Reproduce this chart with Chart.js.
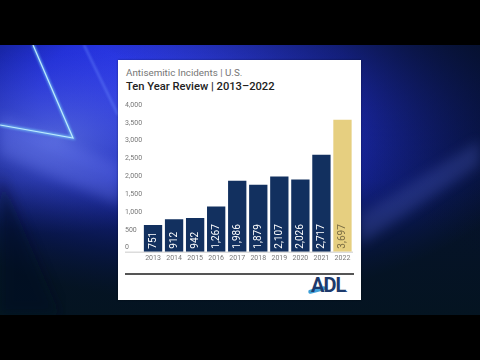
<!DOCTYPE html>
<html><head><meta charset="utf-8">
<script src="https://cdn.jsdelivr.net/npm/chart.js@4/dist/chart.umd.min.js"></script>
<style>
html,body{margin:0;padding:0;background:#000;width:480px;height:360px;overflow:hidden;font-family:Roboto,"Noto Sans",sans-serif;}
#bg{position:absolute;left:0;top:45px;width:480px;height:270px;}
#card{position:absolute;left:118px;top:60px;width:243px;height:240px;background:#fff;box-shadow:0 0 2px rgba(0,0,0,.4);}
#t1{position:absolute;left:8px;top:7px;font-size:9.8px;font-weight:400;color:#767676;white-space:nowrap;}
#t2{position:absolute;left:8px;top:20px;font-size:11.2px;font-weight:500;color:#222;white-space:nowrap;}
#cv{position:absolute;left:0;top:40px;width:243px;height:170px;}
#sep{position:absolute;left:7px;top:213px;width:229px;height:1.5px;background:#555;}
#logo{position:absolute;left:193px;top:213px;font-size:20px;font-weight:700;color:#1d3a6c;letter-spacing:-1px;font-family:Roboto,sans-serif;}
#logo .dot{font-size:8px;letter-spacing:0;}
#swoosh{position:absolute;left:190px;top:228px;width:18px;height:3.5px;background:#3fa0d8;border-radius:2px;transform:rotate(-14deg);}
</style></head>
<body>
<svg id="bg" width="480" height="270" viewBox="0 0 480 270">
<defs>
<radialGradient id="g1" cx="0.42" cy="0.2" r="0.75">
<stop offset="0" stop-color="#3a48ff"/>
<stop offset="0.45" stop-color="#2230d8"/>
<stop offset="0.8" stop-color="#0c1a70"/>
<stop offset="1" stop-color="#061430"/>
</radialGradient>
<linearGradient id="g2" x1="0" y1="0" x2="0" y2="1">
<stop offset="0" stop-color="#000" stop-opacity="0"/>
<stop offset="0.5" stop-color="#04101e" stop-opacity="0.2"/>
<stop offset="1" stop-color="#04141f" stop-opacity="0.9"/>
</linearGradient>
<linearGradient id="g3" x1="1" y1="0" x2="0.6" y2="0.4">
<stop offset="0" stop-color="#06102a" stop-opacity="0.9"/>
<stop offset="1" stop-color="#06102a" stop-opacity="0"/>
</linearGradient>
<radialGradient id="g4" cx="0.12" cy="0.35" r="0.35">
<stop offset="0" stop-color="#6a80ff" stop-opacity="0.8"/>
<stop offset="1" stop-color="#4050ff" stop-opacity="0"/>
</radialGradient>
<filter id="blur"><feGaussianBlur stdDeviation="1.2"/></filter>
<filter id="blur4"><feGaussianBlur stdDeviation="6"/></filter>
</defs>
<rect width="480" height="270" fill="url(#g1)"/>
<rect width="480" height="270" fill="url(#g4)"/>
<rect width="480" height="270" fill="url(#g2)"/>
<rect width="480" height="270" fill="url(#g3)"/>
<polygon points="0,70 120,120 120,160 0,110" fill="#8090ff" opacity="0.25" filter="url(#blur4)"/>
<polygon points="480,95 360,170 360,200 480,120" fill="#5060c0" opacity="0.3" filter="url(#blur4)"/>
<polygon points="0,130 0,270 60,270" fill="#031020" opacity="0.5" filter="url(#blur4)"/>
<polyline points="33,0 73,93 0,80" fill="none" stroke="#7fe0ff" stroke-width="3" opacity="0.6" filter="url(#blur)"/>
<polyline points="33,0 73,93 0,80" fill="none" stroke="#c8f4ff" stroke-width="1.2" opacity="0.9"/>
<line x1="84" y1="0" x2="118" y2="70" stroke="#6a8aff" stroke-width="2" opacity="0.5" filter="url(#blur)"/>
</svg>
<div id="card">
  <div id="t1">Antisemitic Incidents | U.S.</div>
  <div id="t2">Ten Year Review | 2013–2022</div>
  <canvas id="cv" width="243" height="170"></canvas>
  <div id="sep"></div>
  <div id="swoosh"></div>
  <div id="logo">ADL<span class="dot">.</span></div>
</div>
<script>
const years = ["2013","2014","2015","2016","2017","2018","2019","2020","2021","2022"];
const incidents = [751, 912, 942, 1267, 1986, 1879, 2107, 2026, 2717, 3697];
const barColors = ["#12305f","#12305f","#12305f","#12305f","#12305f","#12305f","#12305f","#12305f","#12305f","#e6cf80"];
const labelColors = ["#ffffff","#ffffff","#ffffff","#ffffff","#ffffff","#ffffff","#ffffff","#ffffff","#ffffff","#7a6c42"];
const yTicks = [0, 500, 1000, 1500, 2000, 2500, 3000, 3500, 4000];

const fmt = v => v.toLocaleString('en-US');

const baselinePlugin = {
  id: 'baseline',
  beforeDatasetsDraw(chart) {
    const {ctx, chartArea, scales} = chart;
    const y = scales.y.getPixelForValue(0);
    ctx.save();
    ctx.strokeStyle = '#dcdcdc';
    ctx.lineWidth = 1.5;
    ctx.beginPath();
    ctx.moveTo(7, y + 0.5);
    ctx.lineTo(chartArea.right, y + 0.5);
    ctx.stroke();
    ctx.restore();
  }
};

const barLabelPlugin = {
  id: 'barLabels',
  afterDatasetsDraw(chart) {
    const {ctx, scales} = chart;
    const meta = chart.getDatasetMeta(0);
    const y0 = scales.y.getPixelForValue(0);
    ctx.save();
    ctx.font = '400 10px Roboto';
    ctx.textAlign = 'left';
    ctx.textBaseline = 'middle';
    meta.data.forEach((bar, i) => {
      ctx.save();
      ctx.translate(bar.x, y0 - 3);
      ctx.rotate(-Math.PI / 2);
      ctx.fillStyle = labelColors[i];
      ctx.fillText(fmt(incidents[i]), 0, 0.5);
      ctx.restore();
    });
    ctx.restore();
  }
};

new Chart(document.getElementById('cv'), {
  type: 'bar',
  data: {
    labels: years,
    datasets: [{
      data: incidents,
      backgroundColor: barColors,
      borderWidth: 0,
      categoryPercentage: 1,
      barPercentage: 0.87
    }]
  },
  options: {
    responsive: false,
    animation: false,
    devicePixelRatio: 1,
    layout: { padding: { left: 7, right: 8, top: 9, bottom: 0 } },
    plugins: { legend: { display: false }, tooltip: { enabled: false } },
    scales: {
      x: {
        grid: { display: false, drawTicks: false },
        border: { display: false },
        ticks: { color: '#777', font: { size: 7, family: 'Roboto' }, padding: 2, maxRotation: 0, autoSkip: false },
        afterFit(s) { s.height = 18.3; }
      },
      y: {
        min: 0, max: 4000,
        afterBuildTicks(s) { s.ticks = yTicks.map(v => ({ value: v })); },
        grid: { display: false, drawTicks: false },
        border: { display: false },
        ticks: { color: '#777', font: { size: 7, family: 'Roboto' }, padding: 0, crossAlign: 'far', labelOffset: -4,
                 callback: v => fmt(v) },
        afterFit(s) { s.width = 17.5; }
      }
    }
  },
  plugins: [baselinePlugin, barLabelPlugin]
});
</script>
</body></html>
